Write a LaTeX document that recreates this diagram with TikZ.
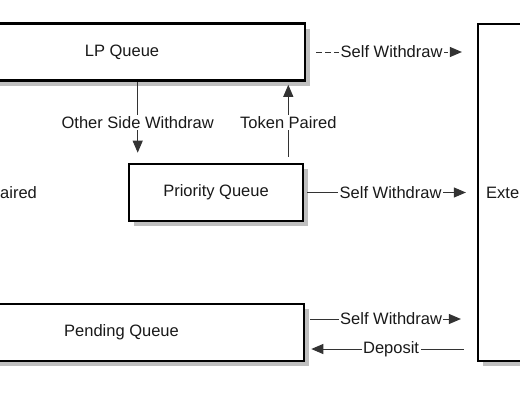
\documentclass[tikz,border=0pt]{standalone}
\usepackage{fontspec}
\setmainfont{Liberation Sans}
\usetikzlibrary{arrows.meta,calc,shadows}

\begin{document}
\begin{tikzpicture}[x=1pt,y=-1pt,
  queue/.style={draw,line width=2.6pt,fill=white,minimum height=57pt,
    drop shadow={shadow xshift=5pt,shadow yshift=-5pt,fill=black!25,opacity=1},
    text=black!90,font=\fontsize{16.5}{20}\selectfont},
  flow/.style={line width=1pt,draw=black!80,-{Triangle[length=12pt,width=10pt]}},
  tag/.style={fill=white,inner sep=1.5pt,text=black!90,font=\fontsize{16.5}{20}\selectfont}]

% Frame
\clip (0,0) rectangle (520,400);
\fill[white] (0,0) rectangle (520,400);

% Queues
\node[queue,minimum width=366pt] (lp) at (122,52) {LP Queue};
\node[queue,minimum width=174pt] (prio) at (216,192.5) {Priority Queue};
\node[queue,minimum width=365pt] (pend) at (121.5,332.5) {Pending Queue};

% Right box
\node[queue,line width=2.2pt,minimum width=240pt,minimum height=337pt] (ext) at (598,192.5) {};
\node[tag,anchor=west,inner sep=0pt] (exttxt) at (486,193) {Exte};

% Left text
\node[tag,anchor=west,inner sep=0pt] (tpl) at (0,193) {aired};

% Self withdraw from LP Queue (dashed)
\draw[flow,dash pattern=on 6pt off 3pt,shorten <=10pt,shorten >=15pt]
  (lp.east) -- (lp.east -| ext.west) node[tag,midway]{Self Withdraw};

% Self withdraw from Priority Queue
\draw[flow,shorten <=3pt,shorten >=11pt]
  (prio.east) -- (prio.east -| ext.west) node[tag,midway]{Self Withdraw};

% Between LP Queue and Priority Queue
\coordinate (osw) at ($(prio.north west)+(10,0)$);
\coordinate (tkp) at ($(prio.north east)+(-16,0)$);
\draw[flow,shorten >=10pt] (lp.south -| osw) -- (osw) node[tag,midway]{Other Side Withdraw};
\draw[flow,shorten <=6pt,shorten >=3pt] (tkp) -- (lp.south -| tkp) node[tag,midway]{Token Paired};

% Pending Queue
\coordinate (pendout) at ($(pend.east)+(0,-13.5)$);
\coordinate (pendin) at ($(pend.east)+(0,16.5)$);
\draw[flow,shorten <=5pt,shorten >=16pt]
  (pendout) -- (pendout -| ext.west) node[tag,midway]{Self Withdraw};
\draw[flow,shorten <=13pt,shorten >=6pt]
  (pendin -| ext.west) -- (pendin) node[tag,midway]{Deposit};

\end{tikzpicture}
\end{document}
